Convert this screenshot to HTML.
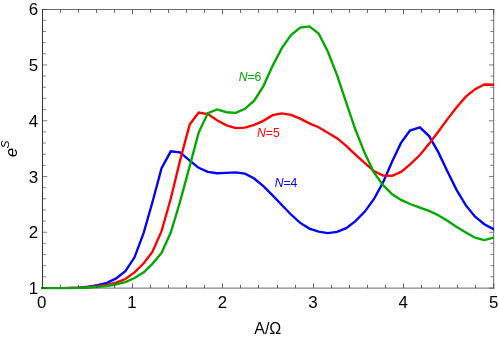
<!DOCTYPE html>
<html><head><meta charset="utf-8"><title>plot</title>
<style>
html,body{margin:0;padding:0;background:#fff;}
body{width:498px;height:339px;overflow:hidden;font-family:"Liberation Sans",sans-serif;}
svg{display:block;}
text{font-family:"Liberation Sans",sans-serif;}
</style></head><body>
<svg width="498" height="339" viewBox="0 0 498 339" style="will-change:transform">
<defs><clipPath id="c"><rect x="41.0" y="8.5" width="453.10" height="280.70"/></clipPath><mask id="m"><rect width="498" height="339" fill="#fff"/></mask></defs>
<rect width="498" height="339" fill="#fff"/>
<path d="M42.1 9.5H494.1M493.7 9.1V288.6M42.1 288.1H494.1" fill="none" stroke="#505050" stroke-width="0.85"/>
<path d="M42.5 9.1V288.6" fill="none" stroke="#2a2a2a" stroke-width="0.95"/>
<g fill="none" stroke-linejoin="miter" stroke-miterlimit="4" stroke-linecap="square" stroke-width="2.35" clip-path="url(#c)">
<polyline stroke="#0000ff" points="42.50,288.10 51.70,288.10 60.91,288.10 70.11,287.99 79.32,287.65 88.52,286.71 97.72,285.14 106.93,282.91 116.13,278.39 125.34,271.19 134.54,257.30 143.75,232.58 152.35,202.50 161.55,168.19 170.76,151.33 179.96,152.28 189.17,160.09 198.67,167.80 207.87,171.81 217.08,173.26 226.58,172.87 235.79,172.43 244.99,173.65 254.19,178.51 263.40,186.21 272.60,195.36 281.81,205.01 291.01,214.50 300.21,222.93 309.42,228.62 318.62,231.57 327.83,233.08 337.03,231.80 346.24,228.12 355.44,221.14 364.64,211.82 373.85,199.21 383.05,182.36 392.26,161.16 400.86,143.13 409.96,130.52 419.87,127.28 429.07,136.10 438.28,152.12 447.48,171.42 456.68,190.12 465.89,205.40 475.09,216.68 484.30,224.26 493.50,229.12"/>
<polyline stroke="#ff0000" points="42.50,288.10 51.70,288.10 60.91,288.10 70.11,288.04 79.32,287.82 88.52,287.21 97.72,286.20 106.93,284.92 116.13,282.63 125.34,279.00 134.54,272.36 143.75,263.32 152.35,252.00 161.55,231.18 170.76,198.82 179.96,160.88 189.67,124.61 198.67,112.50 207.87,114.12 217.08,120.20 226.58,125.39 235.79,128.18 244.99,127.68 254.19,124.94 263.40,120.87 272.60,115.18 281.81,113.39 291.01,114.84 300.21,118.69 309.42,123.32 318.62,127.23 327.83,132.70 337.03,138.17 346.24,145.92 355.44,154.57 364.64,162.88 373.85,171.09 383.05,175.55 392.26,175.72 401.46,171.65 410.66,163.95 419.87,155.02 429.07,143.86 438.28,131.69 447.48,119.14 456.68,107.20 465.89,96.71 475.09,89.12 484.30,84.49 493.50,84.71"/>
<polyline stroke="#00a800" points="42.50,288.10 51.70,288.10 60.91,288.10 70.11,288.07 79.32,287.93 88.52,287.49 97.72,286.87 106.93,285.98 116.13,284.47 125.34,282.02 134.54,278.06 143.75,272.36 152.35,263.88 161.55,252.95 170.76,232.58 179.96,202.17 189.17,168.13 198.67,132.59 207.87,113.11 217.08,109.37 226.58,112.22 235.79,112.83 244.99,108.81 254.19,100.61 263.40,86.10 272.60,65.85 281.81,48.10 291.01,35.10 300.21,27.51 309.42,26.40 318.62,33.48 327.83,51.51 337.03,75.11 346.24,102.57 355.44,129.80 364.64,152.84 373.85,172.48 383.05,185.20 392.26,194.30 401.46,200.16 410.66,204.23 419.87,207.69 429.07,210.93 438.28,215.28 447.48,220.69 456.68,226.89 465.89,232.41 475.09,237.66 484.30,240.11 493.50,237.71"/>
</g>
<path d="M42.50 288.20V283.40M42.50 9.50V14.30M60.50 288.20V284.80M60.50 9.50V12.90M78.50 288.20V284.80M78.50 9.50V12.90M96.50 288.20V284.80M96.50 9.50V12.90M114.50 288.20V284.80M114.50 9.50V12.90M132.50 288.20V283.40M132.50 9.50V14.30M150.50 288.20V284.80M150.50 9.50V12.90M168.50 288.20V284.80M168.50 9.50V12.90M186.50 288.20V284.80M186.50 9.50V12.90M204.50 288.20V284.80M204.50 9.50V12.90M222.50 288.20V283.40M222.50 9.50V14.30M240.50 288.20V284.80M240.50 9.50V12.90M258.50 288.20V284.80M258.50 9.50V12.90M277.50 288.20V284.80M277.50 9.50V12.90M295.50 288.20V284.80M295.50 9.50V12.90M313.50 288.20V283.40M313.50 9.50V14.30M331.50 288.20V284.80M331.50 9.50V12.90M349.50 288.20V284.80M349.50 9.50V12.90M367.50 288.20V284.80M367.50 9.50V12.90M385.50 288.20V284.80M385.50 9.50V12.90M403.50 288.20V283.40M403.50 9.50V14.30M421.50 288.20V284.80M421.50 9.50V12.90M439.50 288.20V284.80M439.50 9.50V12.90M457.50 288.20V284.80M457.50 9.50V12.90M475.50 288.20V284.80M475.50 9.50V12.90M493.70 288.20V283.40M493.70 9.50V14.30" stroke="#333333" stroke-width="0.75" fill="none"/>
<path d="M42.50 288.10H47.30M493.70 288.10H488.90M42.50 276.85H45.90M493.70 276.85H490.30M42.50 265.70H45.90M493.70 265.70H490.30M42.50 254.54H45.90M493.70 254.54H490.30M42.50 243.39H45.90M493.70 243.39H490.30M42.50 232.24H47.30M493.70 232.24H488.90M42.50 221.09H45.90M493.70 221.09H490.30M42.50 209.94H45.90M493.70 209.94H490.30M42.50 198.78H45.90M493.70 198.78H490.30M42.50 187.63H45.90M493.70 187.63H490.30M42.50 176.48H47.30M493.70 176.48H488.90M42.50 165.33H45.90M493.70 165.33H490.30M42.50 154.18H45.90M493.70 154.18H490.30M42.50 143.02H45.90M493.70 143.02H490.30M42.50 131.87H45.90M493.70 131.87H490.30M42.50 120.72H47.30M493.70 120.72H488.90M42.50 109.57H45.90M493.70 109.57H490.30M42.50 98.42H45.90M493.70 98.42H490.30M42.50 87.26H45.90M493.70 87.26H490.30M42.50 76.11H45.90M493.70 76.11H490.30M42.50 64.96H47.30M493.70 64.96H488.90M42.50 53.81H45.90M493.70 53.81H490.30M42.50 42.66H45.90M493.70 42.66H490.30M42.50 31.50H45.90M493.70 31.50H490.30M42.50 20.35H45.90M493.70 20.35H490.30M42.50 9.50H47.30M493.70 9.50H488.90" stroke="#333333" stroke-width="0.6" fill="none"/>
<g font-size="16" fill="#000" mask="url(#m)"><text x="41.60" y="307.7" text-anchor="middle" font-size="16.9">0</text><text x="132.03" y="307.7" text-anchor="middle" font-size="16.9">1</text><text x="222.46" y="307.7" text-anchor="middle" font-size="16.9">2</text><text x="312.89" y="307.7" text-anchor="middle" font-size="16.9">3</text><text x="403.32" y="307.7" text-anchor="middle" font-size="16.9">4</text><text x="493.75" y="307.7" text-anchor="middle" font-size="16.9">5</text><text x="38.1" y="294.15" text-anchor="end" font-size="16.9">1</text><text x="38.1" y="238.39" text-anchor="end" font-size="16.9">2</text><text x="38.1" y="182.63" text-anchor="end" font-size="16.9">3</text><text x="38.1" y="126.87" text-anchor="end" font-size="16.9">4</text><text x="38.1" y="71.11" text-anchor="end" font-size="16.9">5</text><text x="38.1" y="15.35" text-anchor="end" font-size="16.9">6</text>
<text x="267.8" y="333.9" text-anchor="middle">A/&#937;</text>
<g transform="translate(16.9,156.9) rotate(-90)"><text x="0" y="0" font-style="italic" font-size="16.5">e<tspan dx="-0.5" dy="-7.7" font-size="11.7">S</tspan></text></g>
</g>
<g font-size="12.2" mask="url(#m)">
<text x="238.7" y="81.1" fill="#00a800"><tspan font-style="italic">N</tspan>=6</text>
<text x="257" y="136.5" fill="#ff0000"><tspan font-style="italic">N</tspan>=5</text>
<text x="274.7" y="186.5" fill="#0000ff"><tspan font-style="italic">N</tspan>=4</text>
</g>
</svg>
</body></html>
